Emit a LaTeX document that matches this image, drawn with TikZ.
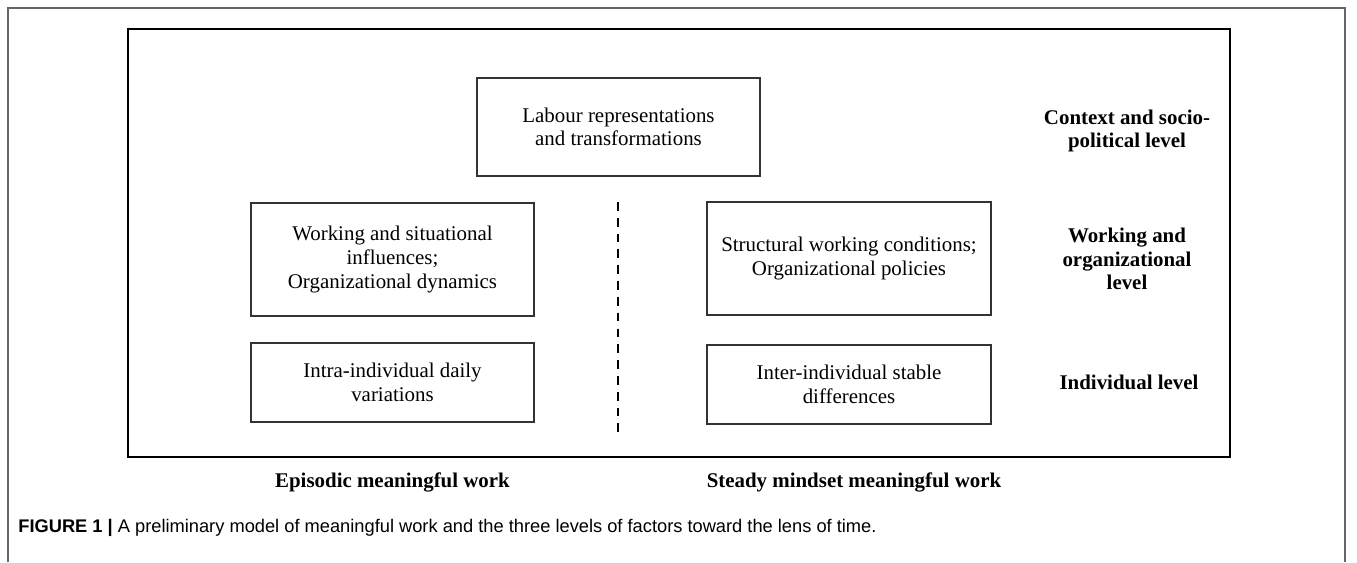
\documentclass[tikz,border=0pt]{standalone}
\usepackage{fontspec}
\setmainfont{Liberation Serif}
\setsansfont{Liberation Sans}
\usepackage{tikz}
\tikzset{
  factorbox/.style={rectangle, draw=black!80, line width=0.85pt, align=center, inner sep=0pt,
    font=\fontsize{11.9}{13.4}\selectfont},
  levellabel/.style={align=center, inner sep=0pt, font=\fontsize{11.9}{13.4}\selectfont\bfseries},
  timelabel/.style={inner sep=0pt, font=\fontsize{11.9}{13.4}\selectfont\bfseries},
  mainframe/.style={draw=black, line width=1.5pt},
  pageframe/.style={draw=black!60, line width=0.6pt},
  divider/.style={draw=black, line width=1.6pt, dash pattern=on 5pt off 4pt},
  captiontext/.style={anchor=west, inner sep=0pt, font=\sffamily\fontsize{10.4}{12}\selectfont}
}
\begin{document}
\begin{tikzpicture}[x=0.02cm, y=-0.02cm]
  \useasboundingbox (0,0) rectangle (1357,562);
  \draw[pageframe] (8,562) -- (8,8) -- (1345,8) -- (1345,562);
  \draw[mainframe] (128,29) rectangle (1230,457);

  \node[factorbox, minimum width=5.66cm, minimum height=1.96cm] (labour) at (618.5,127)
    {Labour representations\\and transformations};
  \node[factorbox, minimum width=5.66cm, minimum height=2.26cm] (situational) at (392.5,259.5)
    {Working and situational\\influences;\\Organizational dynamics};
  \node[factorbox, minimum width=5.66cm, minimum height=1.58cm] (intra) at (392.5,382.5)
    {Intra-individual daily\\variations};
  \node[factorbox, minimum width=5.68cm, minimum height=2.26cm] (structural) at (849,258.5)
    {Structural working conditions;\\Organizational policies};
  \node[factorbox, minimum width=5.68cm, minimum height=1.58cm] (inter) at (849,384.5)
    {Inter-individual stable\\differences};

  \coordinate (divtop) at (618,202);
  \coordinate (divbot) at (618,433);
  \draw[divider] (divtop) -- (divbot);

  \node[levellabel] (context) at (1127,131) {Context and socio-\\political level};
  \node[levellabel] (organizational) at (1127,259) {Working and\\organizational\\level};
  \node[levellabel] (individual) at (1129,382) {Individual level};

  \node[timelabel] (episodic) at (392.5,482) {Episodic meaningful work};
  \node[timelabel] (steady) at (854,482) {Steady mindset meaningful work};

  \node[captiontext] (caption) at (18,528)
    {\textbf{FIGURE 1 |} A preliminary model of meaningful work and the three levels of factors toward the lens of time.};
\end{tikzpicture}
\end{document}
